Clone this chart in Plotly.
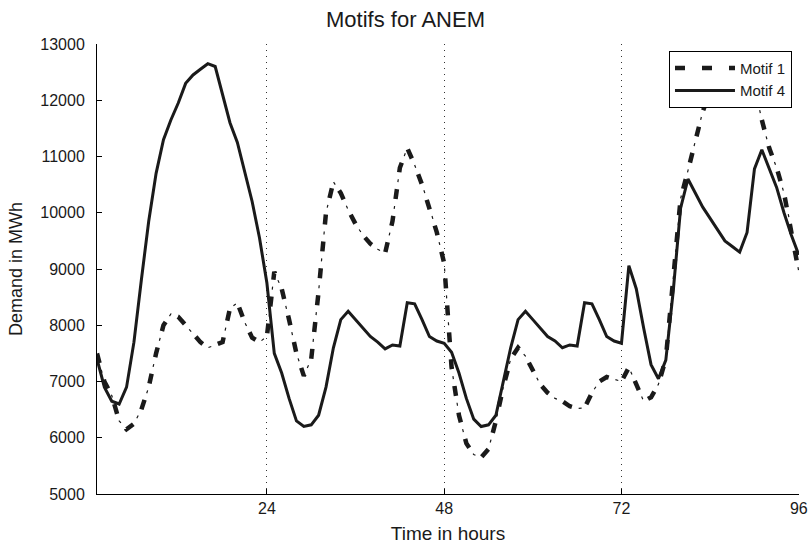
import plotly.graph_objects as go

hours = list(range(1, 97))

motif1 = [7500, 7000, 6750, 6300, 6150, 6250, 6500, 6900, 7500, 8000,
          8200, 8150, 8000, 7850, 7700, 7600, 7650, 7700, 8300, 8400,
          8050, 7780, 7700, 7800, 8950, 8650, 8100, 7500, 7100, 7400,
          8600, 10000, 10550, 10350, 10050, 9800, 9600, 9450, 9350, 9280,
          9850, 10800, 11150, 10850, 10500, 10100, 9650, 9100, 7250, 6400,
          5900, 5700, 5650, 5800, 6300, 6900, 7400, 7600, 7450, 7200,
          6950, 6800, 6700, 6650, 6560, 6520, 6530, 6800, 7000, 7080,
          7040, 7000, 7250, 6950, 6650, 6720, 6950, 7400, 8800, 10250,
          10750, 11300, 11800, 12150, 12450, 12650, 12750, 12750, 12600, 12250,
          11650, 11150, 10800, 10350, 9700, 8950]

motif4 = [7400, 6900, 6650, 6600, 6900, 7700, 8800, 9850, 10700, 11300,
          11650, 11950, 12300, 12450, 12550, 12650, 12600, 12100, 11600, 11250,
          10750, 10200, 9550, 8750, 7500, 7150, 6700, 6300, 6200, 6230,
          6400, 6900, 7600, 8100, 8250, 8100, 7950, 7800, 7700, 7580,
          7650, 7630, 8400, 8380, 8100, 7800, 7720, 7680, 7520, 7150,
          6700, 6330, 6200, 6230, 6400, 7000, 7600, 8100, 8250, 8100,
          7950, 7800, 7720, 7600, 7650, 7630, 8400, 8380, 8100, 7800,
          7720, 7680, 9060, 8650, 7950, 7300, 7050, 7380, 8600, 10080,
          10600, 10350, 10100, 9900, 9700, 9500, 9400, 9300, 9650, 10780,
          11120, 10800, 10450, 10000, 9600, 9250]

x_ticks = [24, 48, 72, 96]
y_ticks = [5000, 6000, 7000, 8000, 9000, 10000, 11000, 12000, 13000]

FONT = "Liberation Sans, Arial, sans-serif"
TICKFONT = "Liberation Sans Narrow, Arial Narrow, Liberation Sans, sans-serif"
INK = "#1a1a1a"

fig = go.Figure()
# thin "dot" part of the dash-dot line
fig.add_trace(go.Scatter(x=hours, y=motif1, mode="lines", showlegend=False,
                         hoverinfo="skip",
                         line=dict(color=INK, width=1.2, dash="0px,17px,3px,7px")))
# thick dash part of the dash-dot line
fig.add_trace(go.Scatter(x=hours, y=motif1, mode="lines", name="Motif 1",
                         line=dict(color=INK, width=4.5, dash="10px,17px")))
fig.add_trace(go.Scatter(x=hours, y=motif4, mode="lines", name="Motif 4",
                         line=dict(color=INK, width=3)))

fig.update_layout(
    width=811, height=549,
    margin=dict(l=97, r=12, t=44, b=55),
    paper_bgcolor="white", plot_bgcolor="white",
    font=dict(family=FONT, color=INK, size=15),
    title=dict(text="Motifs for ANEM", x=0.5, xanchor="center",
               y=0.965, yanchor="middle", font=dict(size=22, color=INK)),
    legend=dict(x=0.99, xanchor="right", y=0.985, yanchor="top",
                bgcolor="white", bordercolor="black", borderwidth=1,
                font=dict(size=15, color=INK), tracegroupgap=0,
                itemwidth=60),
    showlegend=True,
)

fig.update_xaxes(range=[1, 96.03], tickvals=x_ticks, ticktext=[str(v) for v in x_ticks],
                 ticks="inside", ticklen=5, tickcolor="black",
                 showline=True, linecolor="black", linewidth=1,
                 showgrid=True, gridcolor="#333", gridwidth=1, griddash="1px,5px",
                 zeroline=False, tickfont=dict(size=16, family=TICKFONT),
                 ticklabeloverflow="allow", automargin=False,
                 title=dict(text="Time in hours", font=dict(size=19), standoff=10))
fig.update_yaxes(range=[5000, 13000], tickvals=y_ticks,
                 ticktext=[str(v) for v in y_ticks],
                 ticks="inside", ticklen=5, tickcolor="black",
                 showline=True, linecolor="black", linewidth=1,
                 showgrid=False, zeroline=False, tickfont=dict(size=16, family=TICKFONT),
                 ticklabelstandoff=8, automargin=False,
                 title=dict(text="Demand in MWh", font=dict(size=18), standoff=12))

fig.write_html("out.html")
